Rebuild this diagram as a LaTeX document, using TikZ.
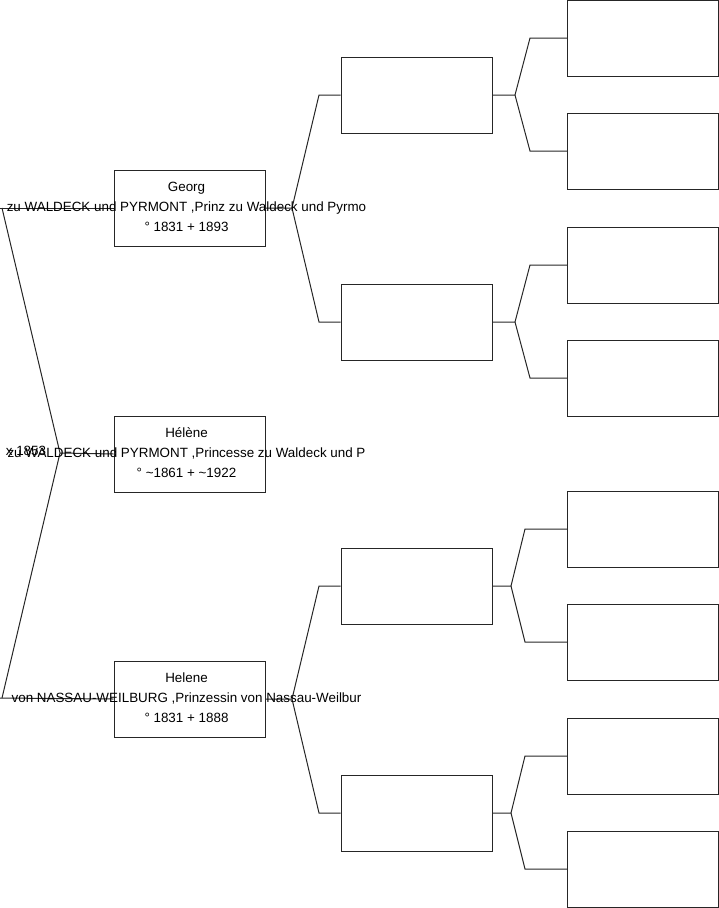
\documentclass[tikz,border=0pt]{standalone}
\usepackage{fontspec}
\setmainfont{Liberation Sans}
\begin{document}
\begin{tikzpicture}[x=1pt,y=-1pt,
  pbox/.style={draw=black!85,line width=1pt,minimum width=151pt,minimum height=76pt,inner sep=0pt},
  ptext/.style={inner sep=0pt,align=center,font=\fontsize{13.4}{20}\selectfont},
  conn/.style={draw=black!85,line width=1pt}]
\useasboundingbox (0,0) rectangle (719,908);
% generation 1
\node[pbox] (g1a) at (189.5,208) {};
\node[pbox] (g1b) at (189.5,454) {};
\node[pbox] (g1c) at (189.5,699) {};
% generation 2
\node[pbox] (g2a) at (416.5,95) {};
\node[pbox] (g2b) at (416.5,322) {};
\node[pbox] (g2c) at (416.5,586) {};
\node[pbox] (g2d) at (416.5,813) {};
% generation 3
\node[pbox] (g3a) at (643,38) {};
\node[pbox] (g3b) at (643,151) {};
\node[pbox] (g3c) at (643,265) {};
\node[pbox] (g3d) at (643,378) {};
\node[pbox] (g3e) at (643,529) {};
\node[pbox] (g3f) at (643,642) {};
\node[pbox] (g3g) at (643,756) {};
\node[pbox] (g3h) at (643,869) {};
% coordinates
\coordinate (fl1) at (2,208);
\coordinate (apex) at (60,453);
\coordinate (fl2) at (2,698);
\coordinate (fa) at (292,208);
\coordinate (fa1) at (319,95);
\coordinate (fa2) at (319,322);
\coordinate (fc) at (292,699);
\coordinate (fc1) at (319,586);
\coordinate (fc2) at (319,813);
\coordinate (fg2a) at (515,95);
\coordinate (fg2a1) at (530,38);
\coordinate (fg2a2) at (530,151);
\coordinate (fg2b) at (515,322);
\coordinate (fg2b1) at (530,265);
\coordinate (fg2b2) at (530,378);
\coordinate (fg2c) at (511,586);
\coordinate (fg2c1) at (525,529);
\coordinate (fg2c2) at (525,642);
\coordinate (fg2d) at (511,813);
\coordinate (fg2d1) at (525,756);
\coordinate (fg2d2) at (525,869);
% connectors
\draw[conn] (g1a.west) -- (0,208);
\draw[conn] (fl1) -- (apex) -- (fl2);
\draw[conn] (0,698) -- (g1c.west);
\draw[conn] (apex) -- (g1b.west);
\draw[conn] (g1a.east) -- (fa) -- (fa1) -- (g2a.west);
\draw[conn] (fa) -- (fa2) -- (g2b.west);
\draw[conn] (g1c.east) -- (fc) -- (fc1) -- (g2c.west);
\draw[conn] (fc) -- (fc2) -- (g2d.west);
\draw[conn] (g2a.east) -- (fg2a) -- (fg2a1) -- (g3a.west);
\draw[conn] (fg2a) -- (fg2a2) -- (g3b.west);
\draw[conn] (g2b.east) -- (fg2b) -- (fg2b1) -- (g3c.west);
\draw[conn] (fg2b) -- (fg2b2) -- (g3d.west);
\draw[conn] (g2c.east) -- (fg2c) -- (fg2c1) -- (g3e.west);
\draw[conn] (fg2c) -- (fg2c2) -- (g3f.west);
\draw[conn] (g2d.east) -- (fg2d) -- (fg2d1) -- (g3g.west);
\draw[conn] (fg2d) -- (fg2d2) -- (g3h.west);
% texts
\node[ptext] (t1) at ([xshift=-3pt,yshift=1pt]g1a.center) {Georg\\zu WALDECK und PYRMONT ,Prinz zu Waldeck und Pyrmo\\° 1831 + 1893};
\node[ptext] (t2) at ([xshift=-3pt,yshift=1pt]g1b.center) {Hélène\\zu WALDECK und PYRMONT ,Princesse zu Waldeck und P\\° \textasciitilde1861 + \textasciitilde1922};
\node[ptext] (t3) at ([xshift=-3pt,yshift=1pt]g1c.center) {Helene\\von NASSAU-WEILBURG ,Prinzessin von Nassau-Weilbur\\° 1831 + 1888};
\node[ptext,font=\fontsize{13.4}{15}\selectfont] (mar) at (26,451) {x 1853};
\end{tikzpicture}
\end{document}
